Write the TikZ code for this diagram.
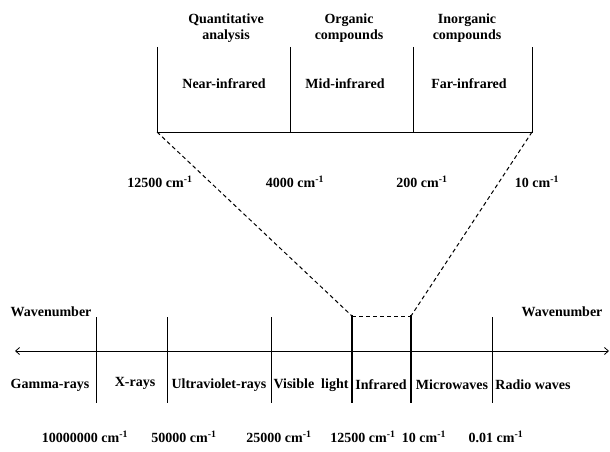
\documentclass[tikz,border=0pt]{standalone}
\usepackage{fontspec}
\setmainfont{Liberation Serif}
\usetikzlibrary{arrows.meta}
\begin{document}
\begin{tikzpicture}[x=1pt,y=-1pt,
  lbl/.style={font=\fontsize{14}{15}\selectfont\bfseries, inner sep=0pt, align=center},
  ln/.style={line width=1pt},
  dsh/.style={line width=1pt, dash pattern=on 4pt off 3pt}]
\useasboundingbox (0,0) rectangle (610,452);
% top box
\coordinate (t1) at (157,47); \coordinate (b1) at (157,132);
\coordinate (t2) at (290,47); \coordinate (b2) at (290,132);
\coordinate (t3) at (413,47); \coordinate (b3) at (413,132);
\coordinate (t4) at (532,47); \coordinate (b4) at (532,132);
\draw[ln] (t1) -- (b1) -- (b4) -- (t4);
\draw[ln] (t2) -- (b2);
\draw[ln] (t3) -- (b3);
\node[lbl] (qa) at (226,28) {Quantitative\\[1pt]analysis};
\node[lbl] (oc) at (349,28) {Organic\\[1pt]compounds};
\node[lbl] (ic) at (467,28) {Inorganic\\[1pt]compounds};
\node[lbl] (nir) at (224,84) {Near-infrared};
\node[lbl] (mir) at (345,84) {Mid-infrared};
\node[lbl] (fir) at (469,84) {Far-infrared};
\node[lbl] (w1) at (160,182) {12500 cm\textsuperscript{-1}};
\node[lbl] (w2) at (295,182) {4000 cm\textsuperscript{-1}};
\node[lbl] (w3) at (422,182) {200 cm\textsuperscript{-1}};
\node[lbl] (w4) at (537,182) {10 cm\textsuperscript{-1}};
% bottom axis
\coordinate (aL) at (15,351); \coordinate (aR) at (609,351);
\draw[line width=0.8pt, {Straight Barb[length=4pt,width=7pt]}-{Straight Barb[length=4pt,width=7pt]}] (aL) -- (aR);
\foreach \x [count=\i] in {96,167,271,352,411,492}{
  \coordinate (vt\i) at (\x,317);
  \coordinate (vb\i) at (\x,403);
  \draw[line width=0.8pt] (vt\i) -- (vb\i);
}
\draw[line width=1.1pt] (352,315) -- (352,403);
\draw[line width=1.1pt] (411,315) -- (411,403);
\coordinate (irL) at (352,316); \coordinate (irR) at (411,316);
\draw[dsh] (irL) -- (irR);
\draw[dsh] (b1) -- (irL);
\draw[dsh] (b4) -- (irR);
\node[lbl] (wnL) at (51,312) {Wavenumber};
\node[lbl] (wnR) at (562,312) {Wavenumber};
\node[lbl] (g) at (50,385) {Gamma-rays};
\node[lbl] (x) at (135,383) {X-rays};
\node[lbl] (uv) at (219,385) {Ultraviolet-rays};
\node[lbl] (vis) at (311,385) {Visible\ \ light};
\node[lbl] (ir) at (381,385) {Infrared};
\node[lbl] (mw) at (452,385) {Microwaves};
\node[lbl] (rw) at (533,385) {Radio waves};
\node[lbl] (n1) at (85,437) {10000000 cm\textsuperscript{-1}};
\node[lbl] (n2) at (184,437) {50000 cm\textsuperscript{-1}};
\node[lbl] (n3) at (279,437) {25000 cm\textsuperscript{-1}};
\node[lbl] (n4) at (363,437) {12500 cm\textsuperscript{-1}};
\node[lbl] (n5) at (424,437) {10 cm\textsuperscript{-1}};
\node[lbl] (n6) at (496,437) {0.01 cm\textsuperscript{-1}};
\end{tikzpicture}
\end{document}
